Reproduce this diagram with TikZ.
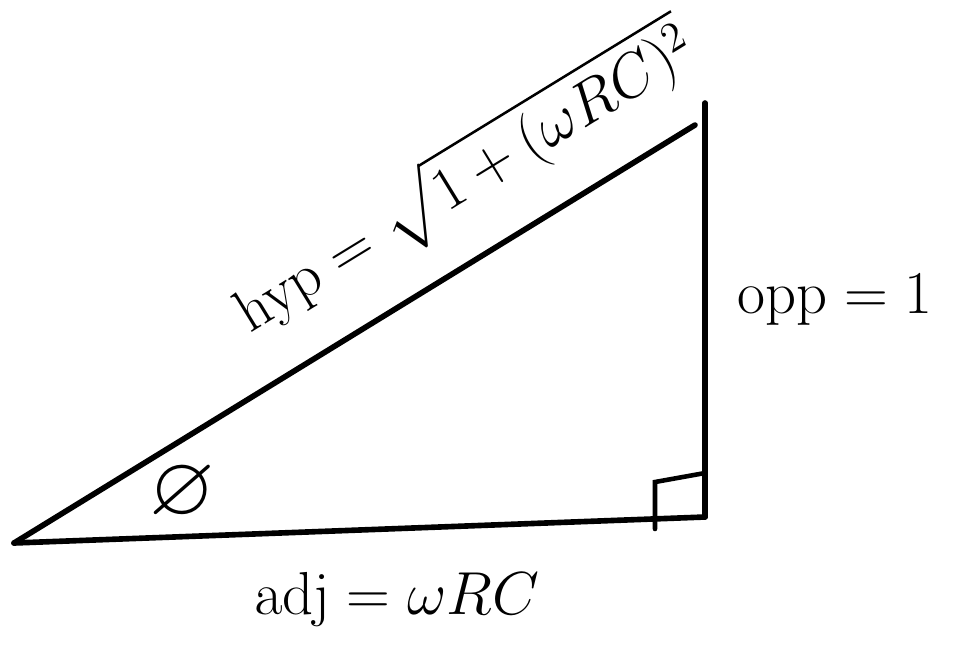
\documentclass[tikz,border=0pt]{standalone}
\usepackage{amsmath}
\usepackage{amssymb}
\usepackage{tikz}
\usetikzlibrary{calc,positioning}
\tikzset{
  side/.style={line width=1.6pt, draw=black, line cap=round, line join=round},
  thinside/.style={line width=1.3pt, draw=black, line cap=round},
  biglabel/.style={font=\fontsize{18}{22}\selectfont, inner sep=2pt},
  anglelabel/.style={font=\fontsize{24}{28}\selectfont, inner sep=0pt}
}
\begin{document}
\begin{tikzpicture}
  \useasboundingbox (0,0) rectangle (9.59,6.51);
  % corners of the triangle
  \coordinate (left) at (0.14,1.08);
  \coordinate (right) at (7.05,1.34);
  \coordinate (top) at (7.05,5.48);
  \coordinate (hypend) at (6.95,5.26);

  \draw[side] (left) -- (right);
  \draw[side] (right) -- (top);
  \draw[side] (left) -- (hypend);

  % right angle mark
  \coordinate (sqa) at (6.55,1.22);
  \coordinate (sqb) at (6.55,1.69);
  \coordinate (sqc) at (7.05,1.78);
  \draw[thinside] (sqa) -- (sqb) -- (sqc);

  \node[anglelabel] (phi) at (1.82,1.58) {$\varnothing$};

  \node[biglabel, rotate=31.5] (hyp) at (4.65,4.72)
    {$\mathrm{hyp}=\sqrt{1+(\omega RC)^2}$};
  \node[biglabel, anchor=west] (opp) at (7.30,3.51) {$\mathrm{opp}=1$};
  \node[biglabel] (adj) at (3.97,0.52) {$\mathrm{adj}=\omega RC$};
\end{tikzpicture}
\end{document}
